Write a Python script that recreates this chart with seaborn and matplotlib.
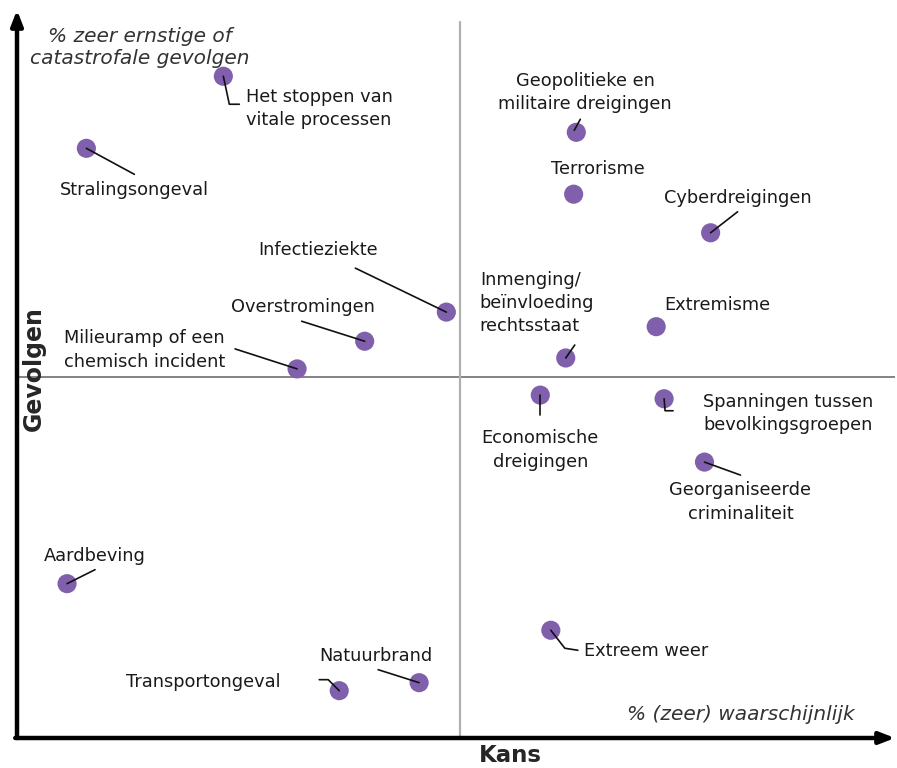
import numpy as np
import pandas as pd
import matplotlib
matplotlib.use("Agg")
import matplotlib.pyplot as plt
import seaborn as sns

# ---- data (percent scales) ----
labels = [
    "Het stoppen van\nvitale processen", "Stralingsongeval", "Infectieziekte",
    "Overstromingen", "Milieuramp of een\nchemisch incident",
    "Geopolitieke en\nmilitaire dreigingen", "Terrorisme", "Cyberdreigingen",
    "Inmenging/\nbeïnvloeding\nrechtsstaat", "Extremisme",
    "Economische\ndreigingen", "Spanningen tussen\nbevolkingsgroepen",
    "Georganiseerde\ncriminaliteit", "Aardbeving", "Transportongeval",
    "Natuurbrand", "Extreem weer",
]
kans = [23.5, 7.9, 48.9, 39.6, 31.9, 63.7, 63.4, 79.0, 62.5, 72.8,
        59.6, 73.7, 78.3, 5.7, 36.7, 45.8, 60.8]
gevolgen = [90.9, 81.0, 58.5, 54.5, 50.7, 83.2, 74.7, 69.4, 52.2, 56.5,
            47.1, 46.6, 37.9, 21.2, 6.5, 7.6, 14.8]
mid_x = 50.5
mid_y = 49.6

df = pd.DataFrame({"label": labels, "kans": kans, "gevolgen": gevolgen})

# ---- layout: label offsets (image pixels, y down), alignment, leader polylines ----
layout = {
    "Het stoppen van\nvitale processen": ((23, 32), "left", [(0, 0), (6, 28), (16, 28)]),
    "Stralingsongeval": ((48, 42), "center", [(0, 0), (48, 26)]),
    "Infectieziekte": ((-128, -62), "center", [(0, 0), (-91, -44)]),
    "Overstromingen": ((-62, -34), "center", [(0, 0), (-63, -20)]),
    "Milieuramp of een\nchemisch incident": ((-233, -19), "left", [(0, 0), (-62, -20)]),
    "Geopolitieke en\nmilitaire dreigingen": ((9, -40), "center", [(-2, -2), (4, -13)]),
    "Terrorisme": ((24, -25), "center", None),
    "Cyberdreigingen": ((27, -35), "center", [(0, 0), (27, -21)]),
    "Inmenging/\nbeïnvloeding\nrechtsstaat": ((-86, -55), "left", [(0, 0), (9, -13)]),
    "Extremisme": ((8, -22), "left", None),
    "Economische\ndreigingen": ((0, 55), "center", [(0, 0), (0, 20)]),
    "Spanningen tussen\nbevolkingsgroepen": ((39, 15), "left", [(0, 0), (1, 12), (9, 12)]),
    "Georganiseerde\ncriminaliteit": ((36, 40), "center", [(0, 0), (36, 13)]),
    "Aardbeving": ((-23, -28), "left", [(0, 0), (28, -14)]),
    "Transportongeval": ((-136, -9), "center", [(0, 0), (-11, -11), (-20, -11)]),
    "Natuurbrand": ((-43, -27), "center", [(0, 0), (-41, -13)]),
    "Extreem weer": ((33, 21), "left", [(0, 0), (14, 18), (27, 20)]),
}

sns.set_style("white")
plt.rcParams["font.family"] = ["DejaVu Sans"]

W, H, DPI = 897, 768, 100
fig = plt.figure(figsize=(W / DPI, H / DPI), dpi=DPI)
ax = fig.add_axes([17 / W, 30 / H, 878 / W, 728 / H])
ax.set_xlim(0, 100)
ax.set_ylim(0, 100)
ax.axis("off")

# quadrant lines
ax.plot([0, 100], [mid_y, mid_y], color="#7a7a7a", lw=1.3, zorder=1)
ax.plot([mid_x, mid_x], [0, 98.3], color="#b0b0b0", lw=1.6, zorder=1)

# axes arrows
ax.annotate("", xy=(0, 1.0), xytext=(0, 0), xycoords="axes fraction",
            arrowprops=dict(arrowstyle="-|>,head_length=0.9,head_width=0.35",
                            lw=3.2, color="black", shrinkA=0, shrinkB=0),
            annotation_clip=False)
ax.annotate("", xy=(1.0, 0), xytext=(-0.002, 0), xycoords="axes fraction",
            arrowprops=dict(arrowstyle="-|>,head_length=0.9,head_width=0.35",
                            lw=3.2, color="black", shrinkA=0, shrinkB=0),
            annotation_clip=False)

sns.scatterplot(data=df, x="kans", y="gevolgen", ax=ax, color="#8060ac",
                s=190, edgecolor="none", zorder=3, legend=False)

fig.canvas.draw()
for lab, x, y in zip(labels, kans, gevolgen):
    (tdx, tdy), ha, leader = layout[lab]
    ax.annotate(lab, xy=(x, y), xytext=(tdx, -tdy), textcoords="offset pixels",
                ha=ha, va="center", fontsize=12.8, color="#1a1a1a",
                linespacing=1.38, zorder=5,
                multialignment="center" if ha == "center" else "left")
    if leader:
        px, py = ax.transData.transform((x, y))
        xs = [px + dx for dx, dy in leader]
        ys = [py - dy for dx, dy in leader]
        fig.lines.append(plt.Line2D(xs, ys, transform=None, color="#111111",
                                    lw=1.2, zorder=6, figure=fig))

# axis titles and notes
fig.text(510 / W, 1 - 755 / H, "Kans", ha="center", va="center",
         fontsize=16.5, fontweight="bold")
fig.text(34 / W, 1 - 369 / H, "Gevolgen", ha="center", va="center",
         rotation=90, fontsize=17, fontweight="bold")
fig.text(140 / W, 1 - 47 / H, "% zeer ernstige of\ncatastrofale gevolgen",
         ha="center", va="center", fontsize=14.5, style="italic",
         color="#333333", linespacing=1.2)
fig.text(741 / W, 1 - 714 / H, "% (zeer) waarschijnlijk", ha="center",
         va="center", fontsize=14.5, style="italic", color="#333333")

fig.savefig("out.png", dpi=DPI)
